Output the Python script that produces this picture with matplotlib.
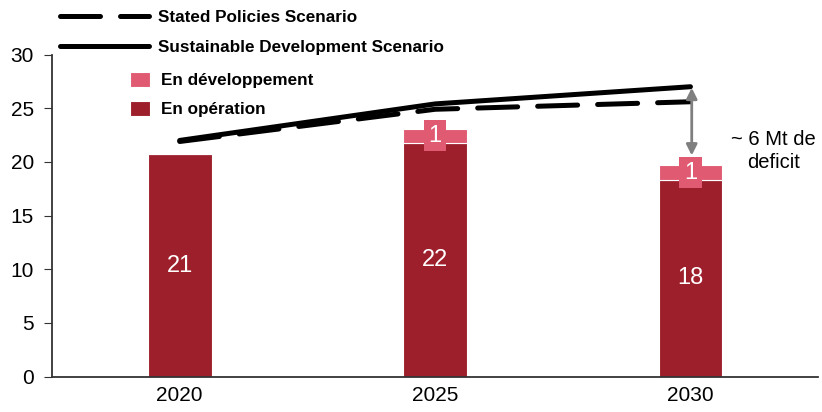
import matplotlib.pyplot as plt
import numpy as np

# Hydrogen output chart: bars by year, scenario lines on top

#=====================================================================
#     Data
#
years        = ['2020', '2025', '2030']
operation    = [20.7, 21.8, 18.3]
development  = [0.0, 1.3, 1.4]
opLabels     = ['21', '22', '18']
devLabels    = ['', '1', '1']
stated       = [21.9, 24.9, 25.6]
sustainable  = [22.0, 25.4, 27.0]
gapText      = '~ 6 Mt de\ndeficit'
#=====================================================================

plt.rcParams['font.family'] = ['Liberation Sans', 'DejaVu Sans']

darkRed = '#9c1f2b'
pink    = '#e05a72'
axCol   = '#333333'

fig = plt.figure(figsize=(8.22, 4.12), dpi=100)
ax = fig.add_axes([0.0633, 0.0857, 0.932, 0.782])

x = np.arange(len(years))
width = 0.25

barsOp = ax.bar(x, operation, width, color=darkRed, edgecolor='white',
                linewidth=0.8, label='En opération', zorder=2)
barsDev = ax.bar(x, development, width, bottom=operation, color=pink,
                 edgecolor='white', linewidth=0.8, label='En développement', zorder=2)

for i in range(len(years)):
    ax.text(x[i], operation[i] / 2, opLabels[i], color='white', fontsize=17,
            ha='center', va='center', zorder=4)
    if devLabels[i]:
        ax.text(x[i], operation[i] + development[i] / 2, devLabels[i], color='white',
                fontsize=17, ha='center', va='center', zorder=4,
                bbox=dict(boxstyle='square,pad=0.2', fc=pink, ec='none'))

lineSDS, = ax.plot(x, sustainable, color='black', lw=3.6, solid_capstyle='round',
                   label='Sustainable Development Scenario', zorder=3)
lineSPS, = ax.plot(x, stated, color='black', lw=3.6, dashes=(8, 4),
                   dash_capstyle='round', label='Stated Policies Scenario', zorder=3)

# deficit arrow
ax.annotate('', xy=(x[2] + 0.005, operation[2] + development[2] + 0.9),
            xytext=(x[2] + 0.005, sustainable[2] - 0.1),
            arrowprops=dict(arrowstyle='<|-|>', color='#7f7f7f', lw=2,
                            mutation_scale=16, shrinkA=0, shrinkB=0), zorder=5)
ax.text(x[2] + 0.325, 21.0, gapText, fontsize=14.5, ha='center', va='center',
        linespacing=1.3)

ax.set_xlim(-0.5, 2.5)
ax.set_ylim(0, 30)
ax.set_xticks(x)
ax.set_xticklabels(years)
ax.set_yticks(np.arange(0, 31, 5))
ax.tick_params(axis='x', length=0, labelsize=15, pad=7)
ax.tick_params(axis='y', length=6, labelsize=15, color=axCol, pad=7, direction='out')
for s in ['top', 'right']:
    ax.spines[s].set_visible(False)
ax.spines['left'].set_color(axCol)
ax.spines['bottom'].set_color(axCol)
ax.spines['left'].set_linewidth(1.3)
ax.spines['bottom'].set_linewidth(1.3)

leg1 = fig.legend(handles=[lineSPS, lineSDS], loc='upper left',
                  bbox_to_anchor=(0.073, 0.975), frameon=False, handlelength=5.2,
                  handletextpad=0.55, labelspacing=0.88, borderpad=0, borderaxespad=0,
                  prop={'weight': 'bold', 'size': 12.3})
leg2 = fig.legend(handles=[barsDev, barsOp], loc='upper left',
                  bbox_to_anchor=(0.158, 0.826), frameon=False, handlelength=1.2,
                  handleheight=1.0, handletextpad=0.6, labelspacing=0.75, borderpad=0,
                  borderaxespad=0, prop={'weight': 'bold', 'size': 12.3})

plt.savefig('out.png', dpi=100)
